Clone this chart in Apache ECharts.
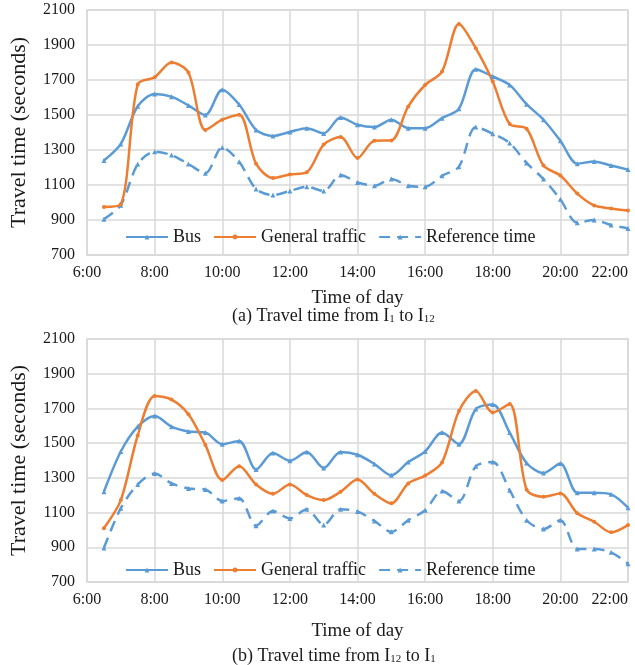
<!DOCTYPE html>
<html>
<head>
<meta charset="utf-8">
<script src="https://cdn.jsdelivr.net/npm/echarts@6/dist/echarts.min.js"></script>
<style>
html,body{margin:0;padding:0;background:#fff;}
#chart{width:635px;height:665px;}
</style>
</head>
<body>
<div id="chart"></div>
<script>
// Time of day (hours)
var times = [6.5,7,7.5,8,8.5,9,9.5,10,10.5,11,11.5,12,12.5,13,13.5,14,14.5,15,15.5,16,16.5,17,17.5,18,18.5,19,19.5,20,20.5,21,21.5,22];
// (a) I1 -> I12
var busA = [1240,1335,1550,1620,1605,1555,1500,1645,1560,1415,1380,1403,1425,1395,1486,1444,1431,1473,1425,1425,1482,1536,1762,1720,1672,1562,1473,1353,1222,1235,1211,1188];
var genA = [975,990,1675,1716,1800,1743,1415,1473,1502,1222,1140,1160,1173,1331,1374,1254,1353,1355,1549,1672,1748,2020,1881,1691,1448,1422,1211,1154,1051,983,966,954];
var refA = [905,985,1220,1290,1271,1220,1167,1315,1233,1077,1043,1066,1090,1066,1157,1115,1096,1134,1096,1090,1153,1205,1431,1393,1340,1226,1134,1018,885,900,871,852];
// (b) I12 -> I1
var busB = [1220,1452,1595,1656,1595,1567,1561,1494,1513,1348,1443,1399,1449,1357,1449,1433,1380,1315,1391,1452,1561,1494,1696,1723,1561,1386,1328,1382,1214,1214,1205,1128];
var genB = [1010,1172,1544,1772,1751,1666,1490,1287,1367,1262,1208,1262,1201,1172,1220,1290,1208,1153,1268,1313,1389,1685,1801,1677,1725,1233,1191,1210,1096,1047,986,1028];
var refB = [896,1125,1262,1325,1268,1239,1233,1167,1182,1024,1109,1066,1119,1029,1119,1106,1052,989,1056,1113,1224,1167,1367,1391,1229,1056,1005,1056,890,890,871,805];
var seriesNames = ['Bus','General traffic','Reference time'];
var xTicks = {6:'6:00',8:'8:00',10:'10:00',12:'12:00',14:'14:00',16:'16:00',18:'18:00',20:'20:00',22:'22:00'};
var yMin = 700, yMax = 2100, yStep = 200;
var xMin = 6, xMax = 22, xStep = 2;

var FONT = 'Liberation Serif';
var TXT = '#1a1a1a';
var BLUE = '#5B9BD5', ORANGE = '#ED7D31', GRIDC = '#D9D9D9';

function pairs(vals){ return vals.map(function(v,i){ return [times[i], v]; }); }

function xAxisCfg(gi, gap){
  return {
    type:'value', gridIndex:gi, min:xMin, max:xMax, interval:xStep,
    name:'Time of day', nameLocation:'middle', nameGap:gap,
    nameTextStyle:{fontFamily:FONT,fontSize:19,color:TXT},
    axisLine:{show:true,lineStyle:{color:GRIDC,width:1}},
    axisTick:{show:false},
    axisLabel:{fontFamily:FONT,fontSize:16,color:TXT,margin:10,
      alignMaxLabel:'right',
      formatter:function(v){ return xTicks[v] || ''; }},
    splitLine:{show:true,lineStyle:{color:GRIDC,width:1.5}}
  };
}
function yAxisCfg(gi){
  return {
    type:'value', gridIndex:gi, min:yMin, max:yMax, interval:yStep,
    name:'Travel time (seconds)', nameLocation:'middle', nameGap:57,
    nameTextStyle:{fontFamily:FONT,fontSize:22,color:TXT},
    axisLine:{show:false}, axisTick:{show:false},
    axisLabel:{fontFamily:FONT,fontSize:16,color:TXT,margin:12,
      formatter:function(v){ return String(v); }},
    splitLine:{show:true,lineStyle:{color:GRIDC,width:1.5}}
  };
}
function lineSeries(name, vals, gi, color, symbol, dashed){
  return {
    name:name, type:'line', xAxisIndex:gi, yAxisIndex:gi,
    data:pairs(vals), smooth:0.3,
    symbol:symbol, symbolSize: symbol==='circle'?4:5, showSymbol:true,
    lineStyle:{color:color,width:2.5,type: dashed?[11,7]:'solid'},
    itemStyle:{color:color},
    emphasis:{disabled:true}, z:dashed?2:3
  };
}
function legendCfg(top){
  return {
    data:seriesNames, left:120, top:top, itemWidth:42, itemHeight:6, itemGap:12,
    textStyle:{fontFamily:FONT,fontSize:18,color:TXT}, selectedMode:false
  };
}

var chart = echarts.init(document.getElementById('chart'), null, {renderer:'canvas'});
chart.setOption({
  animation:false,
  backgroundColor:'#fff',
  grid:[
    {left:77,right:7,top:10,height:245,show:true,borderColor:GRIDC,borderWidth:1.5,containLabel:false},
    {left:77,right:7,top:339,height:243,show:true,borderColor:GRIDC,borderWidth:1.5,containLabel:false}
  ],
  xAxis:[xAxisCfg(0,34), xAxisCfg(1,40)],
  yAxis:[yAxisCfg(0), yAxisCfg(1)],
  legend:[legendCfg(223), legendCfg(556)],
  series:[
    lineSeries('Reference time', refA, 0, BLUE, 'triangle', true),
    lineSeries('Bus', busA, 0, BLUE, 'triangle', false),
    lineSeries('General traffic', genA, 0, ORANGE, 'circle', false),
    lineSeries('Reference time', refB, 1, BLUE, 'triangle', true),
    lineSeries('Bus', busB, 1, BLUE, 'triangle', false),
    lineSeries('General traffic', genB, 1, ORANGE, 'circle', false)
  ],
  graphic:[
    {type:'text', left:232, top:307, style:{
      text:'(a) Travel time from I{s|1} to I{s|12}',
      font:'18px "Liberation Serif"', fill:TXT,
      rich:{s:{fontSize:11,fontFamily:FONT,fill:TXT,verticalAlign:'bottom',padding:[6,0,0,0]}}
    }},
    {type:'text', left:232, top:647, style:{
      text:'(b) Travel time from I{s|12} to I{s|1}',
      font:'18px "Liberation Serif"', fill:TXT,
      rich:{s:{fontSize:11,fontFamily:FONT,fill:TXT,verticalAlign:'bottom',padding:[6,0,0,0]}}
    }}
  ]
});
</script>
</body>
</html>
